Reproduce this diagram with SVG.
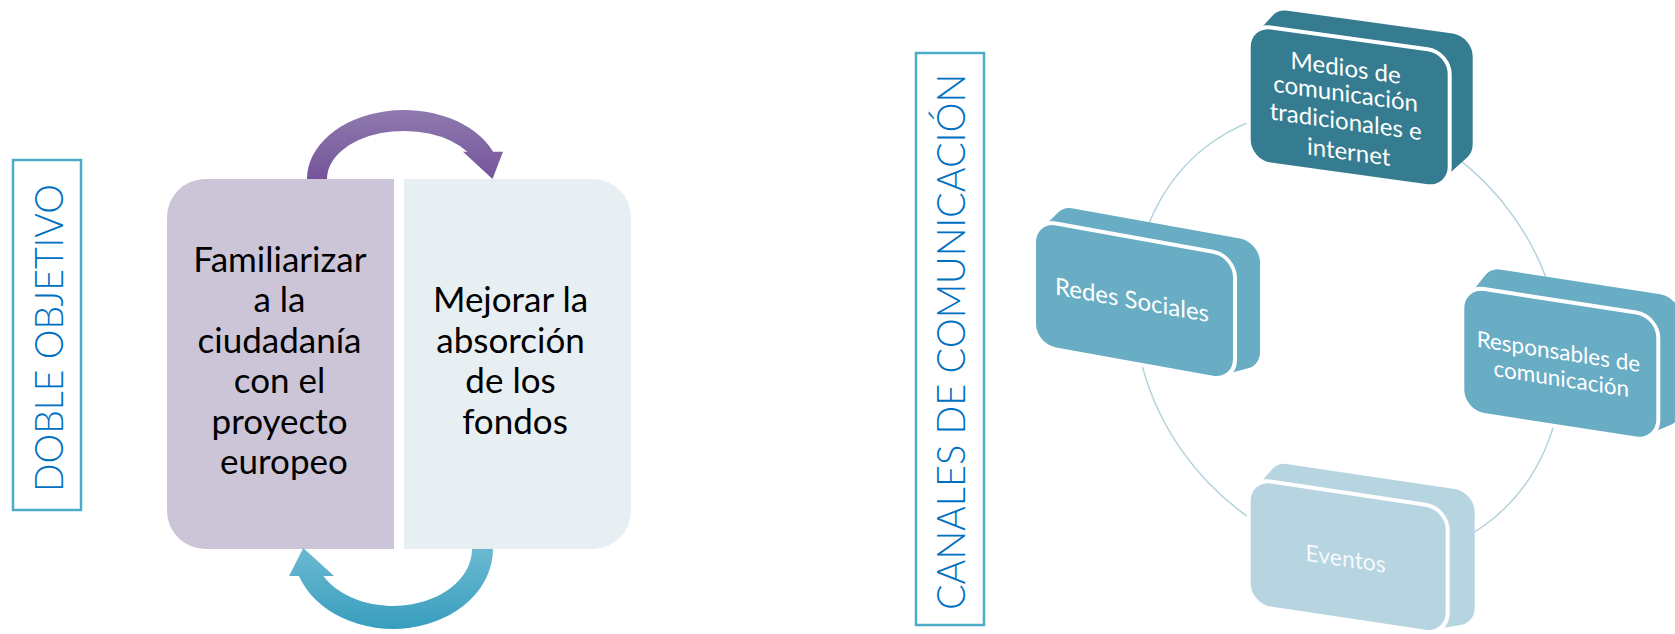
<svg xmlns="http://www.w3.org/2000/svg" width="1675" height="634" viewBox="0 0 1675 634">
  <defs>
    <linearGradient id="gPurple" gradientUnits="userSpaceOnUse" x1="0" y1="110" x2="0" y2="179">
      <stop offset="0" stop-color="#8F7AAE"/>
      <stop offset="1" stop-color="#74549A"/>
    </linearGradient>
    <linearGradient id="gTeal" gradientUnits="userSpaceOnUse" x1="0" y1="549" x2="0" y2="629">
      <stop offset="0" stop-color="#6BB9D1"/>
      <stop offset="1" stop-color="#389EBE"/>
    </linearGradient>
  </defs>
  <style>
    .title { font-family: Lato, "Open Sans", "Liberation Sans", sans-serif; font-weight: 300; font-size: 40px; fill: #0070C0; }
    .frame { fill: none; stroke: #4BACC6; stroke-width: 2.5; }
    .body { font-family: Lato, "Open Sans", "Liberation Sans", sans-serif; font-size: 35px; fill: #000000; text-anchor: middle; }
    .ntext { font-family: Lato, "Open Sans", "Liberation Sans", sans-serif; fill: #FFFFFF; text-anchor: middle; }
    .ext { stroke-width: 40; stroke-linejoin: round; }
    .dark { fill: #367C91; stroke: #367C91; }
    .mid { fill: #69ADC5; stroke: #69ADC5; }
    .light { fill: #B7D4E1; stroke: #B7D4E1; }
    .face { stroke: #FFFFFF; stroke-width: 8; paint-order: stroke; }
  </style>

  <!-- Left: DOBLE OBJETIVO -->
  <g id="doble-objetivo-label">
    <rect class="frame" x="13" y="160" width="68" height="350"/>
    <text class="title" transform="translate(62.5,338) rotate(-90)" text-anchor="middle" textLength="308" lengthAdjust="spacingAndGlyphs">DOBLE OBJETIVO</text>
  </g>

  <g id="node-familiarizar">
    <path d="M394,179 L205,179 A38,38 0 0 0 167,217 L167,511 A38,38 0 0 0 205,549 L394,549 Z" fill="#CCC5D7"/>
    <text class="body">
      <tspan x="284" y="271.7">Familiarizar</tspan>
      <tspan x="284" y="312.2">a la</tspan>
      <tspan x="284" y="352.7">ciudadanía</tspan>
      <tspan x="284" y="393.2">con el</tspan>
      <tspan x="284" y="433.7">proyecto</tspan>
      <tspan x="284" y="474.2">europeo</tspan>
    </text>
  </g>

  <g id="node-mejorar">
    <path d="M404,179 L593,179 A38,38 0 0 1 631,217 L631,511 A38,38 0 0 1 593,549 L404,549 Z" fill="#E8EFF3"/>
    <text class="body">
      <tspan x="515" y="312">Mejorar la</tspan>
      <tspan x="515" y="352.5">absorción</tspan>
      <tspan x="515" y="393">de los</tspan>
      <tspan x="515" y="433.5">fondos</tspan>
    </text>
  </g>

  <g id="connectors">
    <path id="arrow-top" d="M307,179 A97,69 0 0 1 493.1,151.7 L503,151.7 L492.5,179 L463,151.7 L467.4,151.7 A77,48 0 0 0 327,179 Z" fill="url(#gPurple)"/>
    <path id="arrow-bottom" d="M493,549 A100,80 0 0 1 298.9,576 L289,576 L303.3,548 L334,576 L323.4,576 A79,57 0 0 0 472,549 Z" fill="url(#gTeal)"/>
    <ellipse id="ring" cx="1348" cy="334" rx="235" ry="203" transform="rotate(55 1348 334)" fill="none" stroke="#B3D2DC" stroke-width="1.5"/>
  </g>

  <!-- Right: CANALES DE COMUNICACIÓN -->
  <g id="canales-label">
    <rect class="frame" x="916" y="53" width="68" height="572"/>
    <text class="title" transform="translate(965,342) rotate(-90)" text-anchor="middle" textLength="536" lengthAdjust="spacingAndGlyphs">CANALES DE COMUNICACIÓN</text>
  </g>

  <g id="node-medios" transform="translate(1250.7,26.7) skewY(7.86)">
    <polygon class="dark ext" points="20,113 20,20 37,-1 202,-1 202,87 177,113"/>
    <rect class="dark face" x="0" y="0" width="197" height="133" rx="20" ry="20"/>
    <text class="ntext" font-size="24">
      <tspan x="98" y="36.5">Medios de</tspan>
      <tspan x="98" y="62">comunicación</tspan>
      <tspan x="98" y="90">tradicionales e</tspan>
      <tspan x="98" y="120">internet</tspan>
    </text>
  </g>

  <g id="node-redes" transform="translate(1036,221.8) skewY(10.2)">
    <polygon class="mid ext" points="20,102 20,20 37,0 204,0 204,90 177,102"/>
    <rect class="mid face" x="0" y="0" width="197" height="122" rx="20" ry="20"/>
    <text class="ntext" font-size="24" x="96" y="69.3">Redes Sociales</text>
  </g>

  <g id="node-responsables" transform="translate(1464.3,287.9) skewY(8.8)">
    <polygon class="mid ext" points="20,102 20,20 37,-4 196,-4 196,88 172,102"/>
    <rect class="mid face" x="0" y="0" width="192" height="122" rx="20" ry="20"/>
    <text class="ntext" font-size="22.5">
      <tspan x="97" y="57">Responsables de</tspan>
      <tspan x="97" y="83.6">comunicación</tspan>
    </text>
  </g>

  <g id="node-eventos" transform="translate(1250.7,480.6) skewY(8.5)">
    <polygon class="light ext" points="20,103 20,20 37,-2 204,-2 204,94 175,103"/>
    <rect class="light face" x="0" y="0" width="195" height="123" rx="20" ry="20"/>
    <text class="ntext" font-size="23" x="95" y="72" fill-opacity="0.9">Eventos</text>
  </g>
</svg>
